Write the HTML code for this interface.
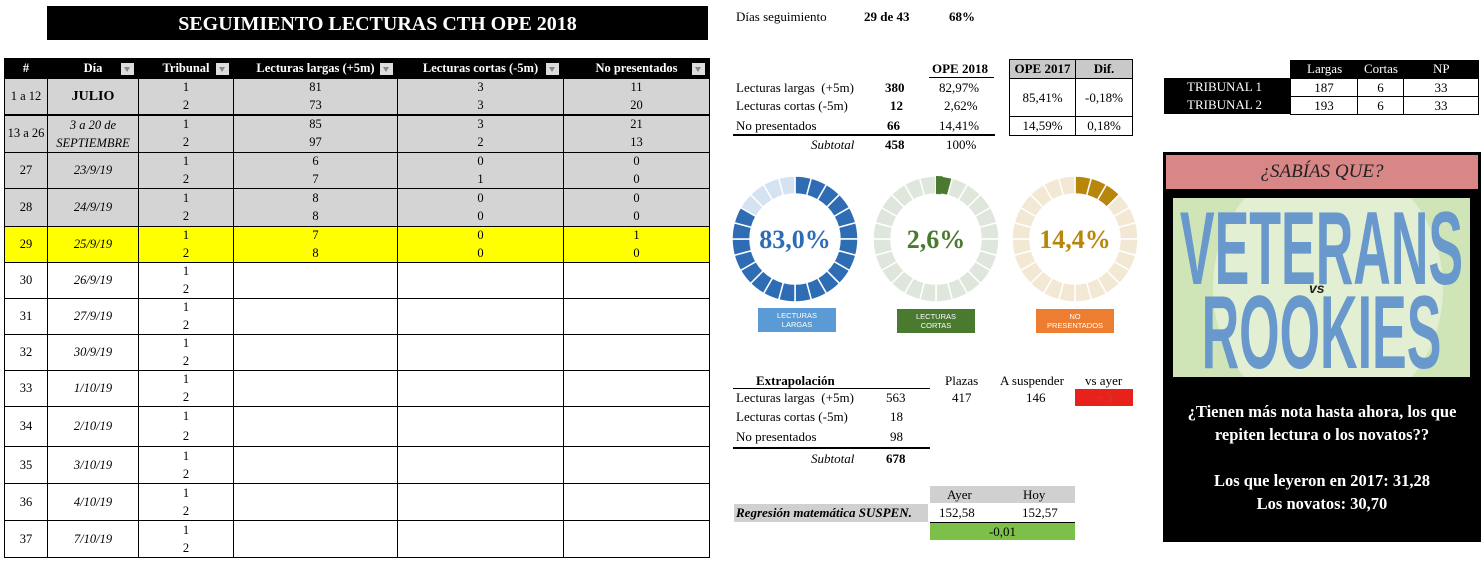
<!DOCTYPE html>
<html><head><meta charset="utf-8"><style>
*{margin:0;padding:0;box-sizing:border-box}
body{width:1484px;height:562px;background:#fff;position:relative;overflow:hidden;font-family:"Liberation Serif",serif;font-size:13px;color:#000}
.a{position:absolute;white-space:nowrap}
table{border-collapse:collapse;table-layout:fixed}
#t{position:absolute;left:4px;top:58px;width:705px}
#t td,#t th{border:1px solid #000;text-align:center;font-size:12.5px;line-height:17px;padding:0;vertical-align:middle}
#t tr{height:18px}
#t tr.h{height:20px}
#t th{background:#000;color:#fff;font-weight:bold;position:relative}
#t th i{position:absolute;right:4px;top:4px;width:13px;height:12px;background:#ddd;}
#t th i:after{content:"";position:absolute;left:3px;top:4px;border:3.5px solid transparent;border-top:5px solid #888}
.g td{background:#d4d4d4}
.y td{background:#ffff00}
</style></head><body>
<div class="a" style="left:47px;top:6px;width:661px;height:34px;background:#000;color:#fff;font-weight:bold;font-size:20px;text-align:center;line-height:36px">SEGUIMIENTO LECTURAS CTH OPE 2018</div>

<table id="t">
<colgroup><col style="width:43px"><col style="width:91px"><col style="width:95px"><col style="width:164px"><col style="width:166px"><col style="width:146px"></colgroup>
<tr class="h"><th>#</th><th>Día<i></i></th><th>Tribunal<i></i></th><th>Lecturas largas (+5m)<i></i></th><th>Lecturas cortas (-5m)<i></i></th><th>No presentados<i></i></th></tr>
<tr class="g"><td rowspan=2>1 a 12</td><td rowspan=2 style="font-weight:bold;font-size:14px">JULIO</td><td style="border-bottom:none">1</td><td style="border-bottom:none">81</td><td style="border-bottom:none">3</td><td style="border-bottom:none">11</td></tr>
<tr class="g"><td style="border-top:none">2</td><td style="border-top:none">73</td><td style="border-top:none">3</td><td style="border-top:none">20</td></tr>
<tr class="g" style="height:19px"><td rowspan=2 style="border-top:2px solid #000">13 a 26</td><td rowspan=2 style="font-style:italic;border-top:2px solid #000;line-height:18px">3 a 20 de<br>SEPTIEMBRE</td><td style="border-bottom:none;border-top:2px solid #000">1</td><td style="border-bottom:none;border-top:2px solid #000">85</td><td style="border-bottom:none;border-top:2px solid #000">3</td><td style="border-bottom:none;border-top:2px solid #000">21</td></tr>
<tr class="g" style="height:19px"><td style="border-top:none">2</td><td style="border-top:none">97</td><td style="border-top:none">2</td><td style="border-top:none">13</td></tr>
<tr class="g"><td rowspan=2>27</td><td rowspan=2><i>23/9/19</i></td><td style="border-bottom:none">1</td><td style="border-bottom:none">6</td><td style="border-bottom:none">0</td><td style="border-bottom:none">0</td></tr>
<tr class="g"><td style="border-top:none">2</td><td style="border-top:none">7</td><td style="border-top:none">1</td><td style="border-top:none">0</td></tr>
<tr class="g" style="height:19px"><td rowspan=2>28</td><td rowspan=2><i>24/9/19</i></td><td style="border-bottom:none">1</td><td style="border-bottom:none">8</td><td style="border-bottom:none">0</td><td style="border-bottom:none">0</td></tr>
<tr class="g" style="height:19px"><td style="border-top:none">2</td><td style="border-top:none">8</td><td style="border-top:none">0</td><td style="border-top:none">0</td></tr>
<tr class="y"><td rowspan=2>29</td><td rowspan=2><i>25/9/19</i></td><td style="border-bottom:none">1</td><td style="border-bottom:none">7</td><td style="border-bottom:none">0</td><td style="border-bottom:none">1</td></tr>
<tr class="y"><td style="border-top:none">2</td><td style="border-top:none">8</td><td style="border-top:none">0</td><td style="border-top:none">0</td></tr>
<tr><td rowspan=2>30</td><td rowspan=2><i>26/9/19</i></td><td style="border-bottom:none">1</td><td rowspan=2></td><td rowspan=2></td><td rowspan=2></td></tr><tr><td style="border-top:none">2</td></tr>
<tr><td rowspan=2>31</td><td rowspan=2><i>27/9/19</i></td><td style="border-bottom:none">1</td><td rowspan=2></td><td rowspan=2></td><td rowspan=2></td></tr><tr><td style="border-top:none">2</td></tr>
<tr><td rowspan=2>32</td><td rowspan=2><i>30/9/19</i></td><td style="border-bottom:none">1</td><td rowspan=2></td><td rowspan=2></td><td rowspan=2></td></tr><tr><td style="border-top:none">2</td></tr>
<tr><td rowspan=2>33</td><td rowspan=2><i>1/10/19</i></td><td style="border-bottom:none">1</td><td rowspan=2></td><td rowspan=2></td><td rowspan=2></td></tr><tr><td style="border-top:none">2</td></tr>
<tr style="height:20px"><td rowspan=2>34</td><td rowspan=2><i>2/10/19</i></td><td style="border-bottom:none">1</td><td rowspan=2></td><td rowspan=2></td><td rowspan=2></td></tr><tr style="height:20px"><td style="border-top:none">2</td></tr>
<tr style="height:18.5px"><td rowspan=2>35</td><td rowspan=2><i>3/10/19</i></td><td style="border-bottom:none">1</td><td rowspan=2></td><td rowspan=2></td><td rowspan=2></td></tr><tr style="height:18.5px"><td style="border-top:none">2</td></tr>
<tr style="height:18.5px"><td rowspan=2>36</td><td rowspan=2><i>4/10/19</i></td><td style="border-bottom:none">1</td><td rowspan=2></td><td rowspan=2></td><td rowspan=2></td></tr><tr style="height:18.5px"><td style="border-top:none">2</td></tr>
<tr style="height:18.5px"><td rowspan=2>37</td><td rowspan=2><i>7/10/19</i></td><td style="border-bottom:none">1</td><td rowspan=2></td><td rowspan=2></td><td rowspan=2></td></tr><tr style="height:18.5px"><td style="border-top:none">2</td></tr>
</table>

<div class="a" style="left:736px;top:9px;font-size:13px">Días seguimiento</div>
<div class="a" style="left:864px;top:9px;font-weight:bold">29 de 43</div>
<div class="a" style="left:949px;top:9px;font-weight:bold">68%</div>
<div class="a" style="left:932px;top:61px;font-weight:bold">OPE 2018</div>
<div class="a" style="left:929px;top:77px;width:65px;border-top:1px solid #000"></div>
<div class="a" style="left:736px;top:80px">Lecturas largas &nbsp;(+5m)</div>
<div class="a" style="left:736px;top:98px">Lecturas cortas (-5m)</div>
<div class="a" style="left:736px;top:118px">No presentados</div>
<div class="a" style="left:885px;top:80px;font-weight:bold">380</div>
<div class="a" style="left:890px;top:98px;font-weight:bold">12</div>
<div class="a" style="left:887px;top:118px;font-weight:bold">66</div>
<div class="a" style="left:939px;top:80px">82,97%</div>
<div class="a" style="left:944px;top:98px">2,62%</div>
<div class="a" style="left:939px;top:118px">14,41%</div>
<div class="a" style="left:733px;top:134px;width:262px;border-top:2px solid #000"></div>
<div class="a" style="left:811px;top:137px;font-style:italic">Subtotal</div>
<div class="a" style="left:885px;top:137px;font-weight:bold">458</div>
<div class="a" style="left:946px;top:137px">100%</div>
<table class="a" style="left:1009px;top:59px;width:124px;font-size:13px">
<tr style="height:19px"><td style="width:66px;border:1px solid #000;background:#c9c9c9;font-weight:bold;text-align:center">OPE 2017</td><td style="border:1px solid #000;background:#c9c9c9;font-weight:bold;text-align:center">Dif.</td></tr>
<tr style="height:38px"><td style="border:1px solid #000;text-align:center">85,41%</td><td style="border:1px solid #000;text-align:center">-0,18%</td></tr>
<tr style="height:19px"><td style="border:1px solid #000;text-align:center">14,59%</td><td style="border:1px solid #000;text-align:center">0,18%</td></tr>
</table>

<svg class="a" style="left:725px;top:170px" width="420" height="170" id="sv"></svg>
<div class="a" style="left:758px;top:308px;width:78px;height:24px;background:#5b9bd5;color:#fff;font-family:'Liberation Sans',sans-serif;font-size:7.5px;text-align:center;line-height:9px;padding-top:3px">LECTURAS<br>LARGAS</div>
<div class="a" style="left:897px;top:309px;width:78px;height:24px;background:#4a7a30;color:#fff;font-family:'Liberation Sans',sans-serif;font-size:7.5px;text-align:center;line-height:9px;padding-top:3px">LECTURAS<br>CORTAS</div>
<div class="a" style="left:1036px;top:309px;width:78px;height:24px;background:#ed7d31;color:#fff;font-family:'Liberation Sans',sans-serif;font-size:7.5px;text-align:center;line-height:9px;padding-top:3px">NO<br>PRESENTADOS</div>

<div class="a" style="left:756px;top:373px;font-weight:bold">Extrapolación</div>
<div class="a" style="left:945px;top:373px">Plazas</div>
<div class="a" style="left:1000px;top:373px">A suspender</div>
<div class="a" style="left:1085px;top:373px">vs ayer</div>
<div class="a" style="left:733px;top:388px;width:197px;border-top:1px solid #000"></div>
<div class="a" style="left:736px;top:390px">Lecturas largas &nbsp;(+5m)</div>
<div class="a" style="left:736px;top:409px">Lecturas cortas (-5m)</div>
<div class="a" style="left:736px;top:429px">No presentados</div>
<div class="a" style="left:886px;top:390px">563</div>
<div class="a" style="left:890px;top:409px">18</div>
<div class="a" style="left:890px;top:429px">98</div>
<div class="a" style="left:952px;top:390px">417</div>
<div class="a" style="left:1026px;top:390px">146</div>
<div class="a" style="left:1075px;top:389px;width:58px;height:17px;background:#e8211c;color:#c04040;text-align:center;line-height:17px">+ 3</div>
<div class="a" style="left:733px;top:447px;width:197px;border-top:2px solid #000"></div>
<div class="a" style="left:811px;top:451px;font-style:italic">Subtotal</div>
<div class="a" style="left:886px;top:451px;font-weight:bold">678</div>
<div class="a" style="left:930px;top:486px;width:145px;height:17px;background:#d0d0d0"></div>
<div class="a" style="left:947px;top:487px">Ayer</div>
<div class="a" style="left:1023px;top:487px">Hoy</div>
<div class="a" style="left:734px;top:504px;width:194px;height:18px;background:#d0d0d0;font-weight:bold;font-style:italic;line-height:18px;padding-left:2px">Regresión matemática SUSPEN.</div>
<div class="a" style="left:939px;top:505px">152,58</div>
<div class="a" style="left:1022px;top:505px">152,57</div>
<div class="a" style="left:930px;top:522px;width:145px;height:18px;background:#7cc04a;border-top:1px solid #000;text-align:center;line-height:17px">-0,01</div>

<div class="a" style="left:1290px;top:60px;width:189px;height:18px;background:#000"></div>
<div class="a" style="left:1164px;top:78px;width:126px;height:36px;background:#000"></div>
<div class="a" style="left:1307px;top:61px;color:#fff">Largas</div>
<div class="a" style="left:1364px;top:61px;color:#fff">Cortas</div>
<div class="a" style="left:1433px;top:61px;color:#fff">NP</div>
<div class="a" style="left:1187px;top:79px;color:#fff">TRIBUNAL 1</div>
<div class="a" style="left:1187px;top:97px;color:#fff">TRIBUNAL 2</div>
<table class="a" style="left:1290px;top:78px;width:189px;font-size:13px">
<tr style="height:18px"><td style="width:67px;border:1px solid #000;text-align:center">187</td><td style="width:46px;border:1px solid #000;text-align:center">6</td><td style="border:1px solid #000;text-align:center">33</td></tr>
<tr style="height:18px"><td style="border:1px solid #000;text-align:center">193</td><td style="border:1px solid #000;text-align:center">6</td><td style="border:1px solid #000;text-align:center">33</td></tr>
</table>

<div class="a" style="left:1163px;top:152px;width:318px;height:390px;background:#000"></div>
<div class="a" style="left:1166px;top:155px;width:312px;height:34px;background:#d88686;text-align:center;font-style:italic;font-size:19px;line-height:34px;color:#222">¿SABÍAS QUE?</div>
<div class="a" style="left:1173px;top:198px;width:297px;height:179px;background:#cfe5b7;overflow:hidden">
 <div style="position:absolute;left:40px;top:-40px;width:230px;height:260px;border-radius:50%;background:#e2efd3"></div>
 <div style="position:absolute;left:-200px;top:6px;width:697px;text-align:center;font-family:'Liberation Sans',sans-serif;font-weight:bold;font-size:104px;line-height:90px;color:#6898cc;transform:scaleX(0.5);transform-origin:50% 50%">VETERANS</div>
 <div style="position:absolute;left:-200px;top:90px;width:697px;text-align:center;font-family:'Liberation Sans',sans-serif;font-weight:bold;font-size:104px;line-height:90px;color:#6898cc;transform:scaleX(0.5);transform-origin:50% 50%">ROOKIES</div>
 <div style="position:absolute;left:136px;top:82px;font-family:'Liberation Sans',sans-serif;font-weight:bold;font-style:italic;font-size:14px;color:#222">vs</div>
</div>
<div class="a" style="left:1166px;top:400px;width:312px;text-align:center;color:#fff;font-weight:bold;font-size:16.5px;line-height:23px;white-space:normal">¿Tienen más nota hasta ahora, los que repiten lectura o los novatos??</div>
<div class="a" style="left:1166px;top:469px;width:312px;text-align:center;color:#fff;font-weight:bold;font-size:16.5px;line-height:23px">Los que leyeron en 2017: 31,28<br>Los novatos: 30,70</div>

<script>
(function(){
var s=document.getElementById('sv'),h='';
var d=[[70,69,'#2e6db4','#d4e2f1',20,'83,0%','#2e6db4'],[211,69,'#4a7a30','#dfe6dc',0.6,'2,6%','#4a7a30'],[350,69,'#b8860b','#f3e8d4',3,'14,4%','#b8860b']];
d.forEach(function(c){
 var R=63,r=45,n=24;
 var p=function(rr,a){return (c[0]+rr*Math.cos(a)).toFixed(2)+','+(c[1]+rr*Math.sin(a)).toFixed(2)};
 for(var i=0;i<n;i++){
  var a0=(i/n)*2*Math.PI-Math.PI/2,a1=((i+1)/n)*2*Math.PI-Math.PI/2;
  var col=i<c[4]?c[2]:c[3];
  h+='<path d="M'+p(R,a0)+' A'+R+','+R+' 0 0 1 '+p(R,a1)+' L'+p(r,a1)+' A'+r+','+r+' 0 0 0 '+p(r,a0)+'Z" fill="'+col+'" stroke="#fff" stroke-width="1.5"/>';
 }
 if(c[4]<1){var a0=-Math.PI/2,a1=a0+0.11;
 h+='<path d="M'+p(R,a0)+' A'+R+','+R+' 0 0 1 '+p(R,a1)+' L'+p(r,a1)+' A'+r+','+r+' 0 0 0 '+p(r,a0)+'Z" fill="'+c[2]+'"/>';}
 h+='<text x="'+c[0]+'" y="'+(c[1]+9)+'" text-anchor="middle" font-family="Liberation Serif,serif" font-weight="bold" font-size="26" fill="'+c[6]+'">'+c[5]+'</text>';
});
s.innerHTML=h;
})();
</script>
</body></html>
